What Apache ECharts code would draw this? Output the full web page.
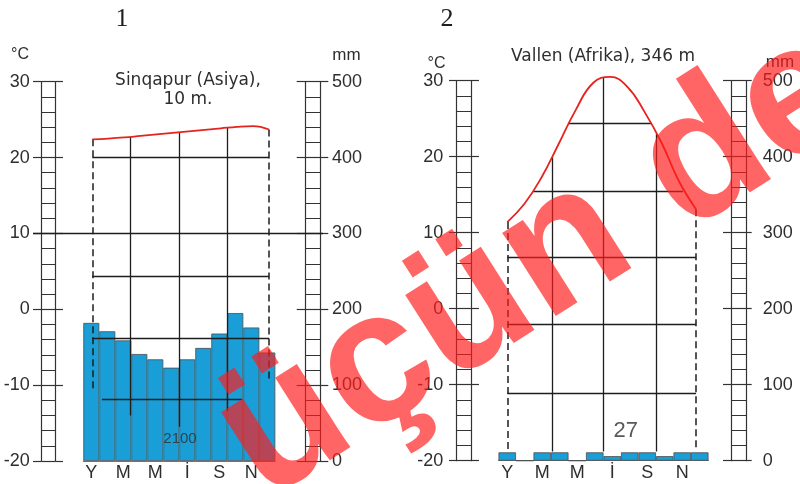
<!DOCTYPE html>
<html><head><meta charset="utf-8">
<script src="https://cdn.jsdelivr.net/npm/echarts@6/dist/echarts.min.js"></script>
<style>html,body{margin:0;padding:0;background:#fff}#c{width:800px;height:484px}</style>
</head><body><div id="c"></div>
<script>
// ---- data ----
const monthLabels = ['Y','','M','','M','','İ','','S','','N',''];
const monthNums = [1,2,3,4,5,6,7,8,9,10,11,12];
const tempTicks = {min:-20, max:30, interval:10};
const mmTicks = {min:0, max:500, interval:100};

// Sinqapur
const sgTitle = 'Sinqapur (Asiya),\n10 m.';
const sgTemp = [22.4,22.5,22.65,22.85,23.05,23.25,23.45,23.65,23.85,24.05,24.15,23.7];
const sgPrecip = [182,171,159,141,134,123,134,149,168,195,176,143];
const sgAnnual = '2100';
// overlay lines (temperature units, month units)
const sgGridH = [[20,1,12],[4.4,1,12],[-3.8,1,12],[-11.9,1.6,10.32]];
const sgGridV = [[3.39,22.7,-14.0],[6.40,23.3,-15.5],[9.37,23.9,-13.4]];
const sgDash = [[1,22.4,-10.6],[12,23.7,-9.5]];

// Vallen
const vaTitle = 'Vallen (Afrika), 346 m';
const vaTemp = [11.4,13.8,17.3,21.7,26.2,29.7,30.5,29.2,25.9,21.8,16.8,13.1];
const vaPrecip = [11,0,11,11,0,11,6,11,11,6,11,11];
const vaAnnual = '27';
const vaGridH = [[24.4,4.54,9.43],[15.4,2.52,11.24],[6.8,1,12],[-2.0,1,12],[-11.1,1,12]];
const vaGridV = [[3.62,19.9,-18.8],[6.59,30.5,-18.8],[9.71,23.0,-18.8]];
const vaDash = [[1,11.4,-18.6],[12,13.1,-18.6]];

const watermark = 'üçün deyil';

// ---- build ----
const FONT = 'Liberation Sans, Arial, sans-serif';
const TFONT = 'DejaVu Sans, sans-serif';
const AX = '#333';
const BAR = '#1a9ed8';
const RED = '#e5241d';
const grids=[], xAxes=[], yAxes=[], series=[];
function addGrid(g){grids.push(g);return grids.length-1;}
function addX(a){xAxes.push(a);return xAxes.length-1;}
function addY(a){yAxes.push(a);return yAxes.length-1;}

function ladder(left,width,top,height,range,labelSide,margin,tickL,tickR){
  const gi=addGrid({left,width,top,height});
  addX({gridIndex:gi,type:'value',show:false});
  const base={gridIndex:gi,type:'value',min:range.min,max:range.max,interval:range.interval,
    axisLine:{show:true,onZero:false,lineStyle:{color:AX,width:1.2}},
    minorTick:{show:false,splitNumber:5}};
  addY(Object.assign({},base,{position:'left',
    axisTick:{show:true,length:tickL,lineStyle:{color:AX,width:1.2}},
    axisLabel:{show:labelSide==='left',margin,fontSize:18,color:'#2e2e2e',fontFamily:FONT},
    splitLine:{show:true,lineStyle:{color:AX,width:1.2}},
    minorSplitLine:{show:true,lineStyle:{color:AX,width:1}}}));
  addY(Object.assign({},base,{position:'right',
    axisTick:{show:true,length:tickR,lineStyle:{color:AX,width:1.2}},
    axisLabel:{show:labelSide==='right',margin,fontSize:18,color:'#2e2e2e',fontFamily:FONT},
    splitLine:{show:false},minorSplitLine:{show:false}}));
}

function barsGrid(left,width,top,height,data){
  const gi=addGrid({left,width,top,height});
  const xi=addX({gridIndex:gi,type:'category',data:monthLabels,boundaryGap:true,
    axisLine:{show:true,lineStyle:{color:'#777',width:1}},axisTick:{show:false},
    axisLabel:{interval:0,margin:3,fontSize:18,color:'#2e2e2e',fontFamily:FONT},splitLine:{show:false}});
  const yi=addY({gridIndex:gi,type:'value',min:mmTicks.min,max:mmTicks.max,show:false});
  series.push({type:'bar',xAxisIndex:xi,yAxisIndex:yi,data,barWidth:'100%',barCategoryGap:'0%',
    itemStyle:{color:BAR,borderColor:'#4d4d4d',borderWidth:0.8},z:2,silent:true});
}

function curveGrid(left,width,top,height,temp,gh,gv,gd,annual,annualPos,annualSize){
  const gi=addGrid({left,width,top,height});
  const xi=addX({gridIndex:gi,type:'value',min:1,max:12,show:false});
  const yi=addY({gridIndex:gi,type:'value',min:tempTicks.min,max:tempTicks.max,show:false});
  series.push({type:'lines',coordinateSystem:'cartesian2d',xAxisIndex:xi,yAxisIndex:yi,clip:false,silent:true,
    data:[...gh.map(([t,a,b])=>({coords:[[a,t],[b,t]]})),...gv.map(([m,t1,t2])=>({coords:[[m,t1],[m,t2]]}))],
    lineStyle:{color:'#1e1e1e',width:1.3,opacity:1},z:3});
  series.push({type:'lines',coordinateSystem:'cartesian2d',xAxisIndex:xi,yAxisIndex:yi,clip:false,silent:true,
    data:gd.map(([m,t1,t2])=>({coords:[[m,t1],[m,t2]]})),
    lineStyle:{color:'#1e1e1e',width:1.5,opacity:1,type:[7,4]},z:3});
  series.push({type:'line',xAxisIndex:xi,yAxisIndex:yi,data:temp.map((t,i)=>[monthNums[i],t]),clip:false,
    smooth:0.45,showSymbol:false,lineStyle:{color:RED,width:1.8},z:5,silent:true});
  series.push({type:'scatter',xAxisIndex:xi,yAxisIndex:yi,data:[annualPos],symbolSize:1,
    itemStyle:{color:'transparent'},silent:true,z:4,
    label:{show:true,position:'inside',formatter:annual,fontSize:annualSize,color:'#2e2e2e',fontFamily:FONT}});
}

// chart 1
ladder(41.7,14,81.7,379.3,tempTicks,'left',12,8.7,7.3);
ladder(305,15,81.7,379.3,mmTicks,'right',12,8.3,8.3);
(function(){
  const gi=addGrid({left:33,width:290,top:81.7,height:379.3});
  const xi=addX({gridIndex:gi,type:'value',min:0,max:1,show:false});
  const yi=addY({gridIndex:gi,type:'value',min:tempTicks.min,max:tempTicks.max,show:false});
  series.push({type:'lines',coordinateSystem:'cartesian2d',xAxisIndex:xi,yAxisIndex:yi,clip:false,silent:true,
    data:[{coords:[[0,10],[1,10]]}],lineStyle:{color:'#1e1e1e',width:1.3,opacity:1},z:3});
})();
barsGrid(83.3,192,81.7,379.3,sgPrecip);
curveGrid(92.3,176.7,81.7,379.3,sgTemp,sgGridH,sgGridV,sgDash,sgAnnual,[6.46,-17.1],15);

// chart 2
ladder(456.7,14.3,80.7,380,tempTicks,'left',13.5,7.7,8);
ladder(731.7,15,80.7,380,mmTicks,'right',16,8.7,5);
barsGrid(498.5,210,80.7,380,vaPrecip);
curveGrid(507.3,188.7,80.7,380,vaTemp,vaGridH,vaGridV,vaDash,vaAnnual,[7.9,-16.1],22);

function txt(x,y,text,size,family){
  return {type:'text',x,y,z:50,silent:true,style:{text,font:size+'px '+(family||FONT),fill:'#2e2e2e',
    textAlign:'center',align:'center',textVerticalAlign:'middle',verticalAlign:'middle',lineHeight:18.6}};
}
const graphic=[
  {type:'text',x:122,y:19,z:50,style:{text:'1',font:'26px Liberation Serif, Times New Roman, serif',fill:'#1e1e1e',textAlign:'center',align:'center',textVerticalAlign:'middle',verticalAlign:'middle'}},
  {type:'text',x:447,y:19,z:50,style:{text:'2',font:'26px Liberation Serif, Times New Roman, serif',fill:'#1e1e1e',textAlign:'center',align:'center',textVerticalAlign:'middle',verticalAlign:'middle'}},
  txt(20,55,'°C',16),
  txt(346.5,55,'mm',17),
  txt(188,90,sgTitle,17,TFONT),
  txt(436.5,64,'°C',16),
  txt(780,62,'mm',17),
  txt(603,57,vaTitle,17,TFONT),
  {type:'text',x:287,y:537,rotation:32.5*Math.PI/180,z:100,silent:true,
   style:{text:watermark,font:'bold 187px Liberation Sans, Arial, sans-serif',fill:'rgba(255,28,28,0.68)',
   textAlign:'left',align:'left',textVerticalAlign:'bottom',verticalAlign:'bottom'}}
];

const chart=echarts.init(document.getElementById('c'));
chart.setOption({animation:false,backgroundColor:'#fff',grid:grids,xAxis:xAxes,yAxis:yAxes,series,graphic});
</script></body></html>
